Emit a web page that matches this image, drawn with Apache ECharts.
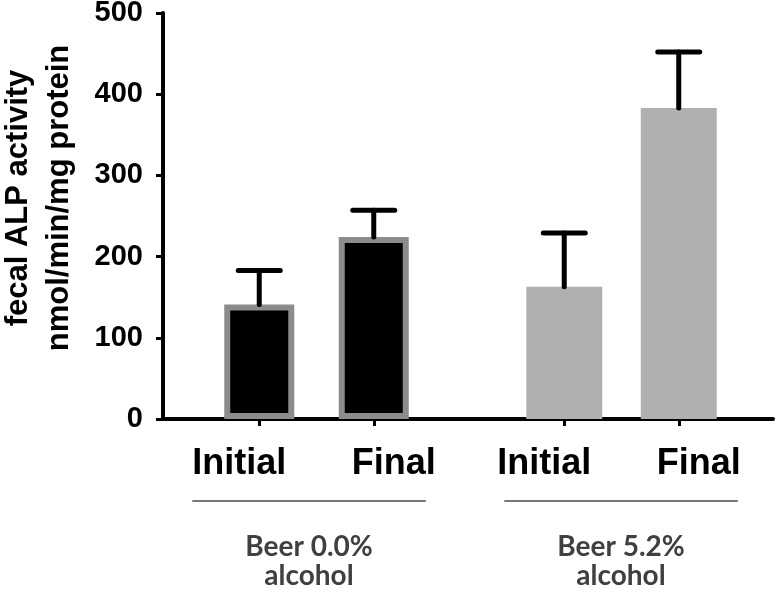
<!DOCTYPE html>
<html>
<head>
<meta charset="utf-8">
<script src="https://cdn.jsdelivr.net/npm/echarts@6/dist/echarts.min.js"></script>
<style>
html,body{margin:0;padding:0;background:#fff;}
#main{width:778px;height:595px;}
</style>
</head>
<body>
<div id="main"></div>
<script>
// values
var timepoints = ['Initial', 'Final'];
var groupNames = ['Beer 0.0%\nalcohol', 'Beer 5.2%\nalcohol'];
var beer00Mean = [141, 224];
var beer00Err = [42, 33];
var beer52Mean = [163, 383];
var beer52Err = [66, 69];
var yMax = 500;
var yStep = 100;

var arial = 'Liberation Sans, Arial, sans-serif';

function errorSeries(idx, means, errs) {
    var d = [];
    for (var i = 0; i < means.length; i++) {
        d.push([i, means[i], means[i] + errs[i]]);
    }
    return {
        type: 'custom',
        xAxisIndex: idx, yAxisIndex: idx,
        z: 10,
        data: d,
        renderItem: function (params, api) {
            var lo = api.coord([api.value(0), api.value(1)]);
            var hi = api.coord([api.value(0), api.value(2)]);
            var half = 21;
            var st = {stroke: '#000', lineWidth: 5, lineCap: 'round'};
            return {
                type: 'group',
                children: [
                    {type: 'line', shape: {x1: lo[0], y1: lo[1], x2: hi[0], y2: hi[1]}, style: st},
                    {type: 'line', shape: {x1: hi[0] - half, y1: hi[1], x2: hi[0] + half, y2: hi[1]}, style: st}
                ]
            };
        }
    };
}

function catAxis(idx) {
    return {
        type: 'category', gridIndex: idx, data: timepoints,
        axisLine: {show: false},
        axisTick: {show: true, alignWithLabel: true, length: 7, lineStyle: {color: '#000', width: 3}},
        axisLabel: {
            margin: 27,
            formatter: function (v) { return v === 'Initial' ? '{a|' + v + '}' : '{b|' + v + '}'; },
            rich: {
                a: {fontSize: 36, fontWeight: 'bold', fontFamily: arial, color: '#000', padding: [0, 40, 0, 0]},
                b: {fontSize: 36, fontWeight: 'bold', fontFamily: arial, color: '#000', padding: [0, 0, 0, 40]}
            }
        }
    };
}

function bracketAxis(idx, name) {
    return {
        type: 'category', gridIndex: idx, data: [''],
        axisLine: {lineStyle: {color: '#777', width: 2}},
        axisTick: {show: false}, axisLabel: {show: false},
        name: name, nameLocation: 'middle', nameGap: 31,
        nameTextStyle: {fontFamily: 'Lato, sans-serif', fontWeight: 'bold', fontSize: 28, lineHeight: 29, color: '#404040'}
    };
}

function hiddenY(idx) {
    return {type: 'value', gridIndex: idx, min: 0, max: yMax, show: false};
}

function grid(g) {
    g.outerBoundsMode = 'none';
    g.containLabel = false;
    return g;
}

var myChart = echarts.init(document.getElementById('main'));
var option = {
    animation: false,
    grid: [
        grid({left: 163, right: 5, top: 13, bottom: 176}),
        grid({left: 202, width: 229, top: 13, bottom: 176}),
        grid({left: 507, width: 229, top: 13, bottom: 176}),
        grid({left: 193, width: 232, top: 400, bottom: 94}),
        grid({left: 505, width: 232, top: 400, bottom: 94})
    ],
    xAxis: [
        {type: 'value', gridIndex: 0, min: 0, max: 1,
            axisLine: {show: true, lineStyle: {color: '#000', width: 4}},
            axisTick: {show: false}, axisLabel: {show: false}, splitLine: {show: false}},
        catAxis(1),
        catAxis(2),
        bracketAxis(3, groupNames[0]),
        bracketAxis(4, groupNames[1])
    ],
    yAxis: [
        {type: 'value', gridIndex: 0, min: 0, max: yMax, interval: yStep,
            axisLine: {show: true, lineStyle: {color: '#000', width: 4}},
            axisTick: {show: true, length: 7, lineStyle: {color: '#000', width: 3}},
            axisLabel: {margin: 20, fontSize: 29, fontWeight: 'bold', fontFamily: arial, color: '#000'},
            splitLine: {show: false},
            name: 'fecal ALP activity\nnmol/min/mg protein',
            nameLocation: 'middle', nameRotate: 90, nameGap: 83,
            nameTextStyle: {fontSize: 31, fontWeight: 'bold', fontFamily: arial, color: '#000', lineHeight: 41, padding: [0, 0, 0, 36]}
        },
        hiddenY(1),
        hiddenY(2),
        hiddenY(3),
        hiddenY(4)
    ],
    series: [
        {type: 'bar', xAxisIndex: 1, yAxisIndex: 1, data: beer00Mean, barWidth: 70,
            itemStyle: {color: '#000', borderColor: '#8c8c8c', borderWidth: 6}},
        {type: 'bar', xAxisIndex: 2, yAxisIndex: 2, data: beer52Mean, barWidth: 76,
            itemStyle: {color: '#b0b0b0'}},
        errorSeries(1, beer00Mean, beer00Err),
        errorSeries(2, beer52Mean, beer52Err)
    ]
};
myChart.setOption(option);
</script>
</body>
</html>
